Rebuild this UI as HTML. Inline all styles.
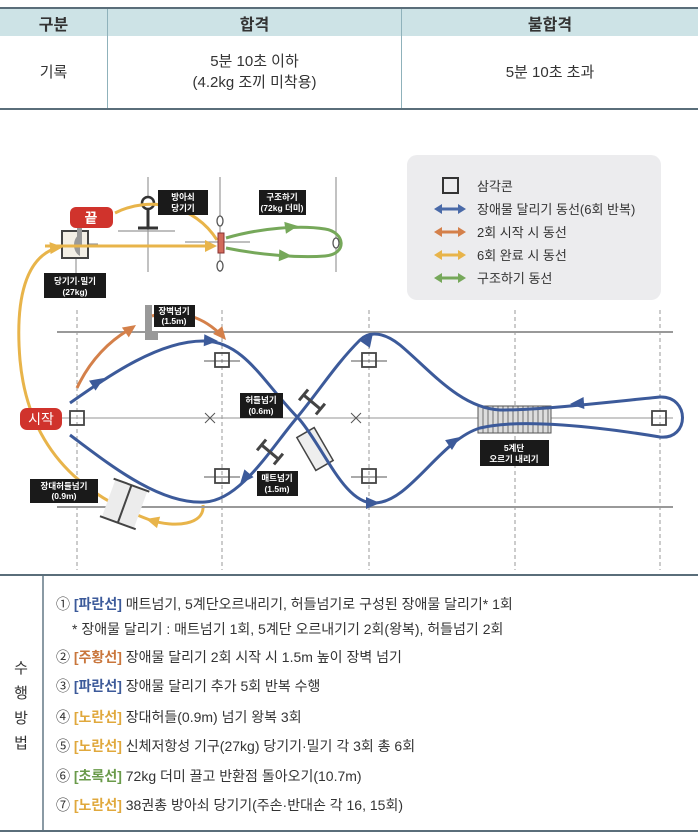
<!DOCTYPE html>
<html><head><meta charset="utf-8"><style>
body{margin:0;width:698px;height:835px;background:#fff;font-family:"Liberation Sans","Noto Sans CJK KR",sans-serif;overflow:hidden;position:relative}
table{position:absolute;left:0;top:7px;width:698px;border-collapse:collapse;font-size:15px;color:#333}
th{background:#cde3e6;height:27px;padding:0;font-weight:bold;font-size:16px;border-top:2px solid #5a6e7a;border-left:1px solid #8fb2bb}
td{height:72px;padding:0;text-align:center;line-height:21px;border-bottom:2px solid #5a6e7a;border-left:1px solid #8fb2bb}
th:first-child,td:first-child{border-left:none}
.b{position:absolute;left:0;top:574px;width:698px;height:254px;border-top:2px solid #5a6e7a;border-bottom:2px solid #5a6e7a}
.vl{position:absolute;left:42px;top:0;width:2px;height:254px;background:#8a9aa4}
.lab{position:absolute;left:12px;top:80px;width:18px;font-size:15px;line-height:25px;text-align:center;color:#333}
.ln{position:absolute;left:56px;font-size:14px;color:#333;white-space:nowrap}
.bl{color:#3c5a9a}.or{color:#c9763c}.ye{color:#e0a83c}.gr{color:#6a9a4a}
</style></head><body>
<table><tr><th style="width:107px">구분</th><th style="width:293px">합격</th><th>불합격</th></tr>
<tr><td>기록</td><td>5분 10초 이하<br>(4.2kg 조끼 미착용)</td><td>5분 10초 초과</td></tr></table>

<svg style="position:absolute;left:0;top:0" width="698" height="574" font-family="Liberation Sans, Noto Sans CJK KR, sans-serif">
<rect x="407" y="155" width="254" height="145" rx="10" fill="#ececee"/>
<rect x="443" y="178" width="15" height="15" fill="none" stroke="#333" stroke-width="2"/>
<g font-size="13" fill="#333"><text x="477" y="191">삼각콘</text><text x="477" y="214">장애물 달리기 동선(6회 반복)</text><text x="477" y="237">2회 시작 시 동선</text><text x="477" y="260">6회 완료 시 동선</text><text x="477" y="283">구조하기 동선</text></g>
<g stroke-width="3">
<line x1="440" y1="209" x2="460" y2="209" stroke="#4a6aa8"/><path d="M434,209 l8,-5 v10z M466,209 l-8,-5 v10z" fill="#4a6aa8"/>
<line x1="440" y1="232" x2="460" y2="232" stroke="#d4804a"/><path d="M434,232 l8,-5 v10z M466,232 l-8,-5 v10z" fill="#d4804a"/>
<line x1="440" y1="255" x2="460" y2="255" stroke="#e8b44a"/><path d="M434,255 l8,-5 v10z M466,255 l-8,-5 v10z" fill="#e8b44a"/>
<line x1="440" y1="278" x2="460" y2="278" stroke="#76a85a"/><path d="M434,278 l8,-5 v10z M466,278 l-8,-5 v10z" fill="#76a85a"/>
</g>
<g stroke="#999" stroke-width="1.2"><line x1="148" y1="177" x2="148" y2="272"/><line x1="220" y1="177" x2="220" y2="272"/><line x1="336" y1="177" x2="336" y2="272"/>
<line x1="118" y1="231" x2="175" y2="231"/><line x1="185" y1="242" x2="250" y2="242"/><line x1="82" y1="244" x2="98" y2="244"/><line x1="76" y1="258" x2="76" y2="275"/></g>
<circle cx="148" cy="203" r="6" fill="#fff" stroke="#333" stroke-width="2.5"/><line x1="148" y1="209" x2="148" y2="228" stroke="#333" stroke-width="3"/><line x1="138" y1="228" x2="158" y2="228" stroke="#333" stroke-width="3"/>
<rect x="62" y="231" width="26" height="27" fill="#f3efe6" stroke="#444" stroke-width="2"/><path d="M80,234 a10,12 0 0 0 0,22z" fill="#999"/><rect x="77" y="228" width="5" height="18" fill="#999"/>
<path d="M226,238 C260,228 300,225 325,229 C345,232 348,254 325,256 C300,258 260,255 226,248" fill="none" stroke="#76a85a" stroke-width="3"/>
<path d="M0,0 l-13,-6 v12z" fill="#76a85a" transform="translate(298,226) rotate(-8)"/>
<path d="M0,0 l-13,-6 v12z" fill="#76a85a" transform="translate(292,256) rotate(3)"/>
<path d="M203,505 C205,525 175,528 150,520 C110,505 30,470 20,360 C15,300 25,255 60,247" fill="none" stroke="#e8b44a" stroke-width="3"/>
<path d="M0,0 l-13,-6 v12z" fill="#e8b44a" transform="translate(63,247) rotate(-5)"/>
<path d="M0,0 l-13,-6 v12z" fill="#e8b44a" transform="translate(146,519) rotate(195)"/>
<line x1="45" y1="246" x2="212" y2="246" stroke="#e8b44a" stroke-width="3"/><path d="M217,246 l-12,-6 v12z" fill="#e8b44a"/>
<path d="M115,213 C150,195 195,205 217,240" fill="none" stroke="#e8b44a" stroke-width="3"/>
<path d="M0,0 l-13,-6 v12z" fill="#e8b44a" transform="translate(180,212) rotate(30)"/>
<rect x="218" y="233" width="6" height="20" fill="#d26a5a" stroke="#833" stroke-width="1"/>
<g fill="#fff" stroke="#555" stroke-width="1.3"><ellipse cx="220" cy="221" rx="3" ry="5"/><ellipse cx="220" cy="266" rx="3" ry="5"/><ellipse cx="336" cy="243" rx="3" ry="5"/></g>
<rect x="70" y="207" width="43" height="21" rx="6" fill="#d0332c"/><text x="91" y="223" fill="#fff" font-size="14" font-weight="bold" text-anchor="middle">끝</text>
<g stroke="#999" stroke-width="2"><line x1="57" y1="332" x2="673" y2="332"/><line x1="57" y1="507" x2="673" y2="507"/></g>
<line x1="60" y1="418" x2="673" y2="418" stroke="#aaa" stroke-width="1.3"/>
<g stroke="#999" stroke-width="1" stroke-dasharray="4,3"><line x1="77" y1="310" x2="77" y2="570"/><line x1="222" y1="310" x2="222" y2="570"/><line x1="369" y1="310" x2="369" y2="570"/><line x1="515" y1="310" x2="515" y2="570"/><line x1="660" y1="310" x2="660" y2="570"/></g>
<g stroke="#555" stroke-width="1"><path d="M205,413 l10,10 M215,413 l-10,10 M351,413 l10,10 M361,413 l-10,10"/>
<line x1="204" y1="361" x2="240" y2="361"/><line x1="351" y1="361" x2="387" y2="361"/><line x1="204" y1="477" x2="240" y2="477"/><line x1="351" y1="477" x2="387" y2="477"/></g>
<g fill="none" stroke="#444" stroke-width="1.8"><rect x="70" y="411" width="14" height="14"/><rect x="215" y="353" width="14" height="14"/><rect x="362" y="353" width="14" height="14"/><rect x="215" y="469" width="14" height="14"/><rect x="362" y="469" width="14" height="14"/><rect x="652" y="411" width="14" height="14"/></g>
<rect x="478" y="406" width="73" height="27" fill="#ddd" stroke="#555"/>
<g stroke="#555" stroke-width="0.8"><path d="M483,406v27M488,406v27M493,406v27M498,406v27M503,406v27M508,406v27M513,406v27M518,406v27M523,406v27M528,406v27M533,406v27M538,406v27M543,406v27M548,406v27"/></g>
<path d="M145,305 h7 v28 h6 v7 h-13z" fill="#999"/>
<rect x="305" y="430" width="20" height="38" fill="#eee" stroke="#444" stroke-width="1.5" transform="rotate(-30 315 449)"/>
<g transform="rotate(20 125 503)"><rect x="108" y="484" width="34" height="40" fill="#ececec"/><path d="M106,484h38M106,524h38M125,484v40" stroke="#444" stroke-width="2"/></g>
<path d="M77,388 C90,360 110,340 132,328" fill="none" stroke="#d4804a" stroke-width="3"/>
<path d="M0,0 l-13,-6 v12z" fill="#d4804a" transform="translate(136,325) rotate(-35)"/>
<path d="M152,316 C180,308 205,318 222,336" fill="none" stroke="#d4804a" stroke-width="3"/>
<path d="M0,0 l-13,-6 v12z" fill="#d4804a" transform="translate(226,340) rotate(50)"/>
<path d="M70,403 C110,375 160,340 205,341 C245,342 265,385 300,420 C325,450 345,505 375,503 C410,502 440,440 480,428 C520,418 600,427 660,437 C690,440 690,396 660,397 C600,403 540,410 500,410 C460,408 430,370 400,345 C385,333 370,330 360,340 C335,365 320,390 295,420 C270,450 240,500 205,502 C160,505 110,465 70,435" fill="none" stroke="#3c5a9a" stroke-width="3"/>
<g stroke="#444" stroke-width="3" fill="none">
<path d="M-11,-7 v14 M11,-7 v14 M-11,0 h22" transform="translate(312,402) rotate(40)"/>
<path d="M-11,-7 v14 M11,-7 v14 M-11,0 h22" transform="translate(270,452) rotate(40)"/>
</g>
<g fill="#3c5a9a">
<path d="M0,0 l-14,-6 v12z" transform="translate(104,378) rotate(-33)"/>
<path d="M0,0 l-14,-6 v12z" transform="translate(218,341) rotate(3)"/>
<path d="M0,0 l-14,-6 v12z" transform="translate(373,333) rotate(-55)"/>
<path d="M0,0 l-14,-6 v12z" transform="translate(570,404) rotate(176)"/>
<path d="M0,0 l-14,-6 v12z" transform="translate(460,437) rotate(-35)"/>
<path d="M0,0 l-14,-6 v12z" transform="translate(380,503) rotate(0)"/>
<path d="M0,0 l-14,-6 v12z" transform="translate(240,484) rotate(130)"/>
</g>
<rect x="20" y="408" width="42" height="22" rx="7" fill="#d0332c"/><text x="41" y="424" fill="#fff" font-size="14" text-anchor="middle">시작</text>
<g fill="#1a1a1a"><rect x="158" y="190" width="50" height="25"/><rect x="259" y="190" width="47" height="25"/><rect x="44" y="273" width="62" height="25"/><rect x="154" y="305" width="41" height="22"/><rect x="240" y="393" width="43" height="25"/><rect x="257" y="471" width="41" height="25"/><rect x="30" y="479" width="68" height="24"/><rect x="480" y="440" width="69" height="26"/></g>
<g fill="#fff" font-size="8.5" font-weight="bold" text-anchor="middle">
<text x="183" y="200">방아쇠</text><text x="183" y="211">당기기</text>
<text x="282" y="200">구조하기</text><text x="282" y="211">(72kg 더미)</text>
<text x="75" y="284">당기기·밀기</text><text x="75" y="295">(27kg)</text>
<text x="174" y="314">장벽넘기</text><text x="174" y="324">(1.5m)</text>
<text x="261" y="403">허들넘기</text><text x="261" y="414">(0.6m)</text>
<text x="277" y="481">매트넘기</text><text x="277" y="492">(1.5m)</text>
<text x="64" y="489">장대허들넘기</text><text x="64" y="499">(0.9m)</text>
<text x="514" y="451">5계단</text><text x="514" y="462">오르기 내리기</text></g>
</svg>

<div class="b"><div class="vl"></div><div class="lab">수<br>행<br>방<br>법</div>
<div class="ln" style="top:18px">① <b class="bl">[파란선]</b> 매트넘기, 5계단오르내리기, 허들넘기로 구성된 장애물 달리기* 1회</div>
<div class="ln" style="top:43px;left:72px">* 장애물 달리기 : 매트넘기 1회, 5계단 오르내기기 2회(왕복), 허들넘기 2회</div>
<div class="ln" style="top:71px">② <b class="or">[주황선]</b> 장애물 달리기 2회 시작 시 1.5m 높이 장벽 넘기</div>
<div class="ln" style="top:100px">③ <b class="bl">[파란선]</b> 장애물 달리기 추가 5회 반복 수행</div>
<div class="ln" style="top:131px">④ <b class="ye">[노란선]</b> 장대허들(0.9m) 넘기 왕복 3회</div>
<div class="ln" style="top:160px">⑤ <b class="ye">[노란선]</b> 신체저항성 기구(27kg) 당기기·밀기 각 3회 총 6회</div>
<div class="ln" style="top:190px">⑥ <b class="gr">[초록선]</b> 72kg 더미 끌고 반환점 돌아오기(10.7m)</div>
<div class="ln" style="top:219px">⑦ <b class="ye">[노란선]</b> 38권총 방아쇠 당기기(주손·반대손 각 16, 15회)</div>
</div>
</body></html>
